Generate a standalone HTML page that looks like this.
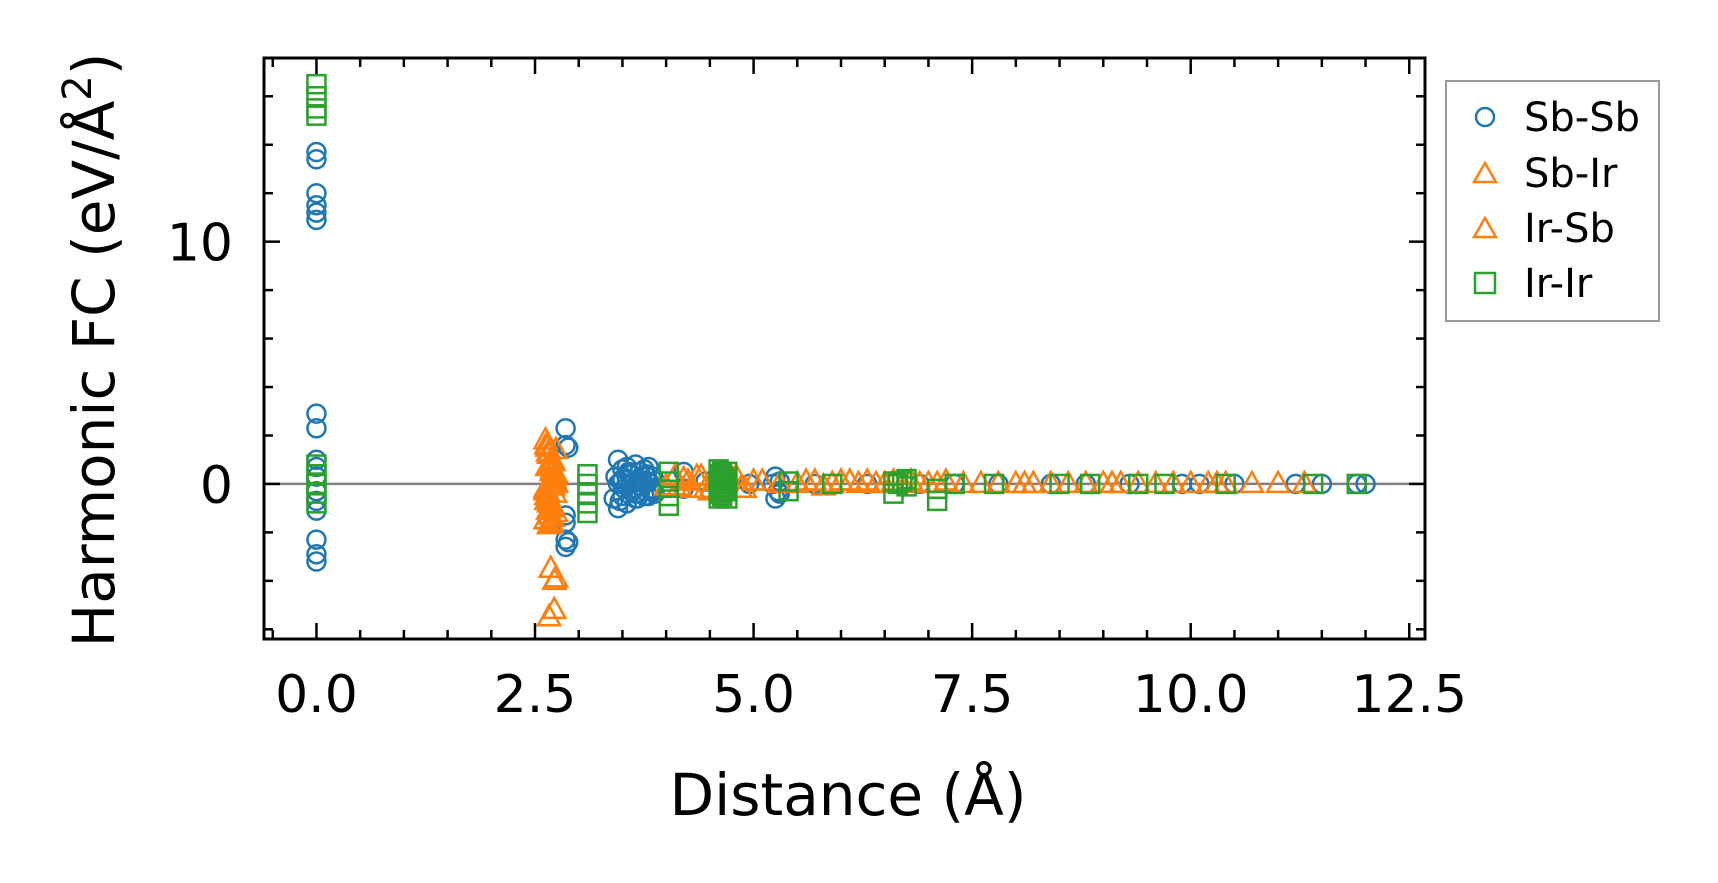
<!DOCTYPE html>
<html><head><meta charset="utf-8"><style>
html,body{margin:0;padding:0;background:#fff}
svg{display:block;font-family:"DejaVu Sans","Liberation Sans",sans-serif}
</style></head><body>
<svg id="chart" width="1718" height="883" viewBox="0 0 1718 883">
<g id="marks"></g>
<g id="axes"></g>
<text x="848" y="815" font-size="58" text-anchor="middle">Distance (Å)</text>
<text transform="translate(114,350) rotate(-90)" font-size="58" text-anchor="middle">Harmonic FC (eV/Å<tspan dy="-23" font-size="40">2</tspan><tspan dy="23">)</tspan></text>
<g>
<rect x="1446" y="81" width="213" height="240" fill="#fff" stroke="#999" stroke-width="2"/>
<g><circle cx="1485" cy="117" r="9" fill="none" stroke="#1f77b4" stroke-width="2.5"/><text x="1524" y="131" font-size="40">Sb-Sb</text></g>
<g><path d="M1485,163 L1496,182 L1474,182 Z" fill="none" stroke="#ff7f0e" stroke-width="2.5"/><text x="1524" y="187" font-size="40">Sb-Ir</text></g>
<g><path d="M1485,218 L1496,237 L1474,237 Z" fill="none" stroke="#ff7f0e" stroke-width="2.5"/><text x="1524" y="242" font-size="40">Ir-Sb</text></g>
<g><rect x="1475" y="273" width="20" height="20" fill="none" stroke="#2ca02c" stroke-width="2.5"/><text x="1524" y="297" font-size="40">Ir-Ir</text></g>
</g>
</svg>
<script>
const xTicks=[0,2.5,5,7.5,10,12.5];
const xTickLabels=["0.0","2.5","5.0","7.5","10.0","12.5"];
const yTicks=[0,10];
const yTickLabels=["0","10"];
const sbsbX=[0,0,0,0,0,0,0,0,0,0,0,0,0,0,0,0,0,2.85,2.85,2.85,2.85,2.85,2.85,2.88,2.88,3.45,3.5,3.55,3.6,3.65,3.7,3.75,3.8,3.85,3.5,3.6,3.7,3.8,3.45,3.55,3.65,3.75,3.85,3.5,3.6,3.7,3.8,3.4,3.42,3.48,3.52,3.58,3.62,3.68,3.72,3.78,3.82,3.88,3.45,3.55,3.65,3.75,3.85,3.47,3.57,3.67,3.77,3.87,4.2,4.2,4.45,4.95,5.25,5.25,5.3,5.3,5.22,5.28,5.7,6.3,6.9,7.3,7.8,8.4,8.8,9.3,9.9,10.1,10.5,11.2,11.5,11.9,12.0];
const sbsbY=[13.7,13.4,12.0,11.5,11.2,10.9,2.9,2.3,1.0,0.7,0.3,-0.3,-0.7,-1.1,-2.3,-2.9,-3.2,2.3,1.6,-1.3,-1.6,-2.3,-2.6,1.5,-2.4,1.0,0.6,0.7,0.4,0.8,0.5,0.6,0.7,0.3,-0.5,-0.3,-0.4,-0.5,-1.0,-0.8,-0.6,-0.5,-0.2,0.2,0.0,-0.1,0.1,-0.6,0.3,0.1,-0.2,0.4,-0.3,0.2,-0.1,0.3,-0.2,0.1,0.0,0.2,-0.4,0.0,-0.3,-0.7,0.5,-0.6,0.4,-0.4,0.5,-0.2,0.1,0.0,0.3,-0.6,-0.4,0.1,0.0,-0.3,0.0,0.0,0.0,0.0,0.0,0.0,0.0,0.0,0.0,0.0,0.0,0.0,0.0,0.0,0.0];
const sbirX=[2.62,2.64,2.66,2.68,2.7,2.72,2.74,2.62,2.66,2.7,2.74,2.62,2.66,2.7,2.74,2.62,2.66,2.7,2.74,2.64,2.68,2.72,2.63,2.65,2.67,2.69,2.71,2.73,2.63,2.65,2.67,2.69,2.71,2.73,2.63,2.67,2.71,2.64,2.68,2.72,2.74,2.72,2.66,4.1,4.15,4.2,4.25,4.3,4.35,4.4,4.45,4.5,4.55,4.6,4.8,4.85,4.9,5.0,5.1,5.5,5.6,5.7,5.8,5.9,6.0,6.1,6.2,6.3,6.4,6.5,6.6,6.7,6.8,6.9,7.0,7.2,7.4,7.6,7.8,8.0,8.1,8.2,8.4,8.6,8.8,9.0,9.1,9.2,9.4,9.6,9.8,10.0,10.2,10.4,10.7,11.0];
const sbirY=[1.8,1.5,1.2,0.9,0.6,0.3,0.0,-0.3,-0.6,-0.9,-1.2,-1.5,-1.7,1.0,0.4,-0.2,-0.8,-1.4,1.4,0.7,-1.0,0.2,1.6,1.3,0.8,0.5,-0.1,-0.4,-0.7,-1.1,-1.3,-1.6,0.9,0.1,-0.5,-1.0,0.3,-0.3,-3.5,-4.0,-3.9,-5.2,-5.5,0.3,-0.1,0.2,0.1,-0.2,0.3,0.3,-0.2,-0.3,0.1,0.2,0.3,-0.2,-0.2,0.1,0.1,0.0,0.1,0.1,-0.1,0.0,0.1,0.1,0.0,0.1,0.0,0.0,0.1,0.0,0.1,0.0,0.0,0.1,0.0,0.0,0.0,0.0,0.0,0.0,0.0,0.0,0.0,0.0,0.0,0.0,0.0,0.0,0.0,0.0,0.0,0.0,0.0,0.0];
const irsbX=[2.7,4.0,5.3,6.0,7.1,8.1,9.1,10.3,11.3];
const irsbY=[0.5,-0.1,0.0,0.1,0.0,0.0,0.0,0.0,0.0];
const iririX=[0,0,0,0,0,0,0,0,0,3.1,3.1,3.1,3.1,3.1,4.03,4.03,4.03,4.03,4.6,4.6,4.6,4.6,4.62,4.62,4.62,4.64,4.64,4.64,4.66,4.66,4.66,4.68,4.68,4.7,4.7,4.7,4.7,5.4,5.4,5.9,6.6,6.6,6.65,6.7,6.75,6.75,7.1,7.1,7.3,7.75,8.5,8.85,9.4,9.7,10.4,11.4,11.9];
const iririY=[16.5,16.0,15.5,15.2,0.8,0.4,0.0,-0.4,-0.8,0.4,0.0,-0.4,-0.8,-1.2,0.5,0.1,-0.5,-0.9,0.6,0.2,-0.2,-0.6,0.4,0.0,-0.4,0.5,0.1,-0.5,0.3,-0.1,-0.3,0.2,-0.2,0.5,0.1,-0.3,-0.6,0.1,-0.3,0.0,0.1,-0.4,0.0,0.1,0.2,-0.1,-0.2,-0.7,0.0,0.0,0.0,0.0,0.0,0.0,0.0,0.0,0.0];

const NS="http://www.w3.org/2000/svg";
const L=264,R=1425,T=58,B=639;
const X0=-0.6,X1=12.68,Y0=-6.4,Y1=17.58;
function sx(v){return L+(v-X0)/(X1-X0)*(R-L);}
function sy(v){return B-(v-Y0)/(Y1-Y0)*(B-T);}
function mk(tag,attrs,parent){const e=document.createElementNS(NS,tag);for(const k in attrs)e.setAttribute(k,attrs[k]);parent.appendChild(e);return e;}
const marks=document.getElementById('marks');
const axes=document.getElementById('axes');
const zl=mk('line',{x1:L,x2:R,y1:sy(0),y2:sy(0),stroke:'#808080','stroke-width':2.5},marks);


for(let i=0;i<sbsbX.length;i++){
  const c=mk('circle',{cx:sx(sbsbX[i]),cy:sy(sbsbY[i]),r:9,fill:'none',stroke:'#1f77b4','stroke-width':2.5},marks);
  
  
}
function tri(x,y,parent){const px=sx(x),py=sy(y);return mk('path',{d:`M${px},${py-12} L${px+11},${py+8} L${px-11},${py+8} Z`,fill:'none',stroke:'#ff7f0e','stroke-width':2.5},parent);}
for(let i=0;i<sbirX.length;i++){
  const t=tri(sbirX[i],sbirY[i],marks);
  
  
}
for(let i=0;i<irsbX.length;i++){
  const t=tri(irsbX[i],irsbY[i],marks);
  
  
}
for(let i=0;i<iririX.length;i++){
  const s=mk('rect',{x:sx(iririX[i])-9,y:sy(iririY[i])-9,width:18,height:18,fill:'none',stroke:'#2ca02c','stroke-width':2.5},marks);
  
  
}
const fr=mk('rect',{x:L,y:T,width:R-L,height:B-T,fill:'none',stroke:'#000','stroke-width':3},axes);


for(let v=-0.5;v<=12.6;v+=0.5){
  const major=Math.abs(v/2.5-Math.round(v/2.5))<1e-6;const len=major?16:9;const px=sx(v);
  mk('line',{x1:px,x2:px,y1:B,y2:B-len,stroke:'#000','stroke-width':2.5},axes);
  mk('line',{x1:px,x2:px,y1:T,y2:T+len,stroke:'#000','stroke-width':2.5},axes);
}
for(let v=-6;v<=17;v+=2){
  const major=v%10===0;const len=major?16:9;const py=sy(v);
  mk('line',{x1:L,x2:L+len,y1:py,y2:py,stroke:'#000','stroke-width':2.5},axes);
  mk('line',{x1:R,x2:R-len,y1:py,y2:py,stroke:'#000','stroke-width':2.5},axes);
}
for(let i=0;i<xTicks.length;i++){
  const t=mk('text',{x:sx(xTicks[i]),y:B+73,'font-size':52,'text-anchor':'middle'},axes);
  t.textContent=xTickLabels[i];
  
  
}
for(let i=0;i<yTicks.length;i++){
  const t=mk('text',{x:L-31,y:sy(yTicks[i])+19,'font-size':52,'text-anchor':'end'},axes);
  t.textContent=yTickLabels[i];
  
  
}
</script>
</body></html>
